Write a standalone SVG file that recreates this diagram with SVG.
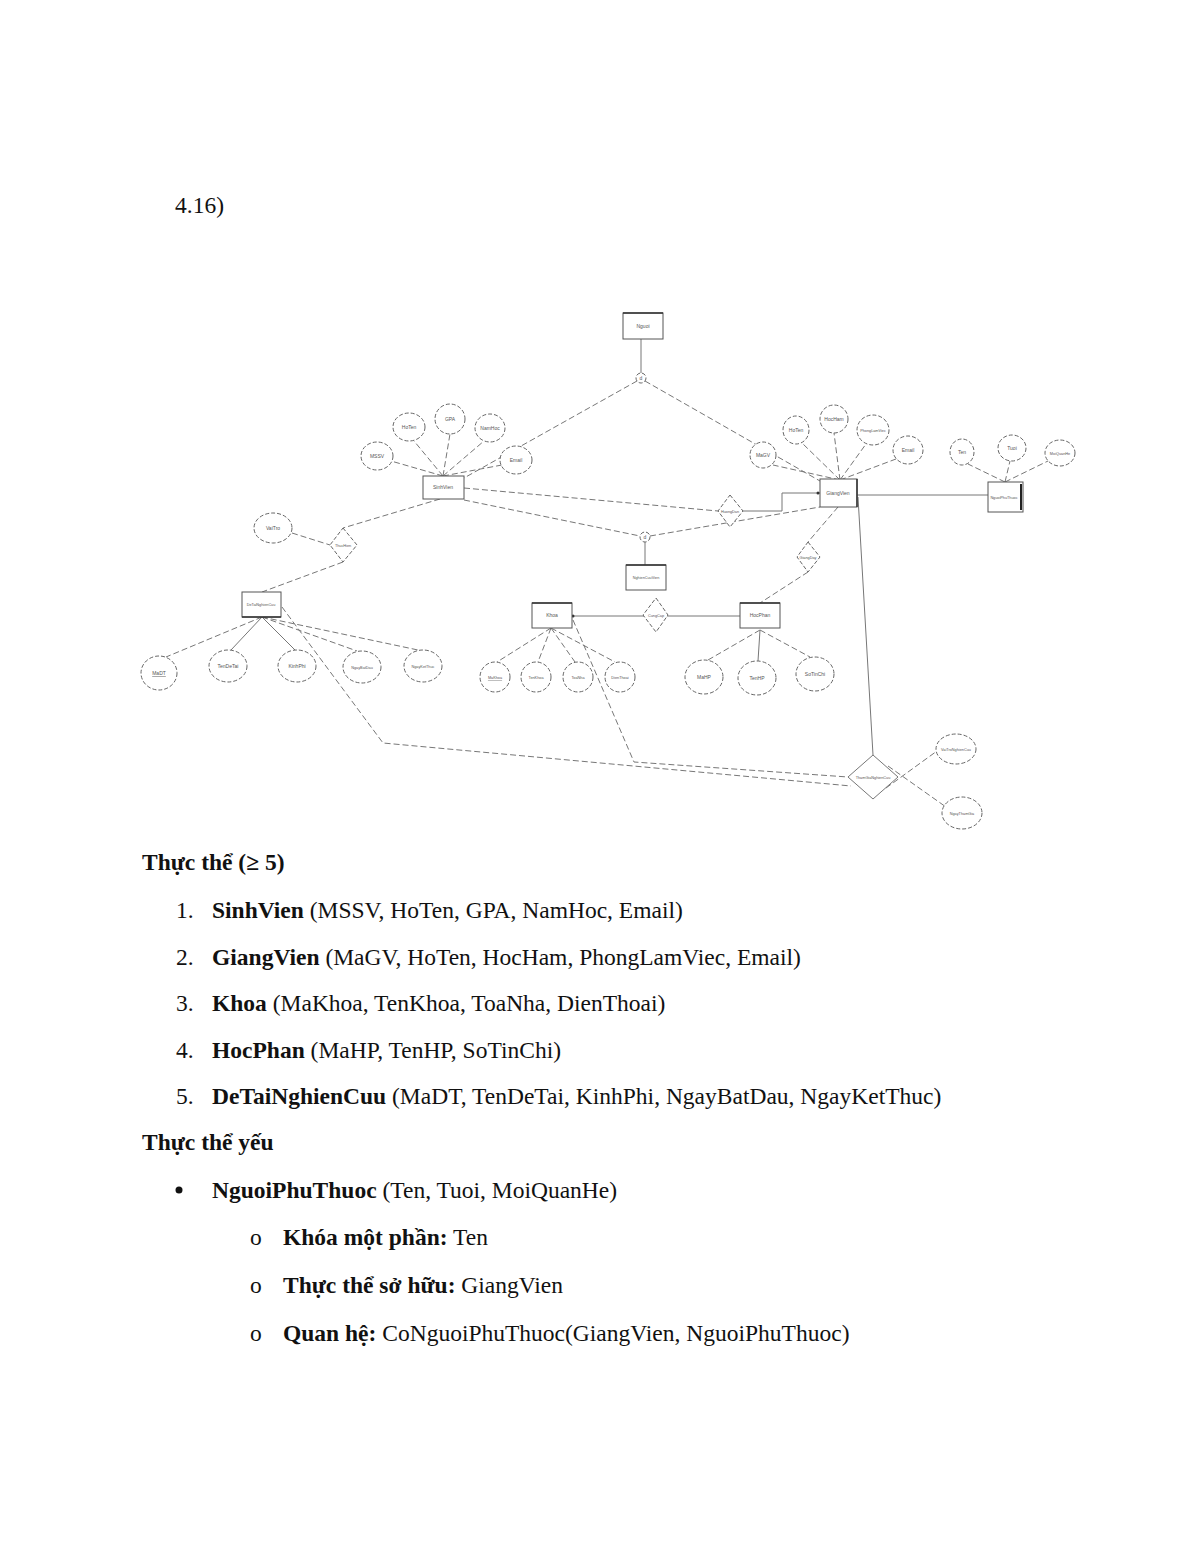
<svg xmlns="http://www.w3.org/2000/svg" width="1200" height="1553" viewBox="0 0 1200 1553">
<style>
.bg{fill:#ffffff}
.ent{fill:#ffffff;stroke:#555;stroke-width:1}
.attr{fill:#ffffff;stroke:#666;stroke-width:1;stroke-dasharray:4 2}
.rel{fill:#ffffff;stroke:#666;stroke-width:1;stroke-dasharray:4 2}
.dl{fill:none;stroke:#777;stroke-width:1;stroke-dasharray:6 3}
.sl{fill:none;stroke:#777;stroke-width:1}
.lb{font-family:"Liberation Sans",Arial,sans-serif;font-size:5px;fill:#555;text-anchor:middle}
.s4{font-size:3.8px}
.t{font-family:"Liberation Serif","Times New Roman",serif;font-size:23.5px;fill:#111}
.b{font-weight:bold}
</style>
<rect class="bg" x="0" y="0" width="1200" height="1553"/>

<g id="connectors">
  <line class="sl" x1="641" y1="339" x2="641" y2="373"/>
  <line class="dl" x1="637" y1="381" x2="464" y2="478"/>
  <line class="dl" x1="645" y1="381" x2="820" y2="481"/>
  <line class="dl" x1="443" y1="476" x2="391" y2="461"/>
  <line class="dl" x1="443" y1="476" x2="414" y2="441"/>
  <line class="dl" x1="443" y1="476" x2="450" y2="434"/>
  <line class="dl" x1="443" y1="476" x2="484" y2="441"/>
  <line class="dl" x1="443" y1="476" x2="502" y2="465"/>
  <line class="dl" x1="840" y1="480" x2="773" y2="465"/>
  <line class="dl" x1="840" y1="480" x2="802" y2="443"/>
  <line class="dl" x1="840" y1="480" x2="834" y2="433"/>
  <line class="dl" x1="840" y1="480" x2="866" y2="444"/>
  <line class="dl" x1="840" y1="480" x2="896" y2="459"/>
  <line class="sl" x1="857" y1="495" x2="988" y2="495"/>
  <line class="dl" x1="1005" y1="482" x2="968" y2="464"/>
  <line class="dl" x1="1005" y1="482" x2="1010" y2="461"/>
  <line class="dl" x1="1005" y1="482" x2="1048" y2="461"/>
  <line class="dl" x1="464" y1="488" x2="718" y2="511"/>
  <polyline class="sl" points="743,511 782,511 782,493 820,493"/>
  <circle cx="818" cy="493" r="1.5" fill="#333"/>
  <line class="dl" x1="464" y1="500" x2="640" y2="536"/>
  <line class="dl" x1="650" y1="536" x2="820" y2="507"/>
  <line class="sl" x1="645" y1="542" x2="645" y2="565"/>
  <line class="dl" x1="838" y1="507" x2="808" y2="542"/>
  <line class="dl" x1="808" y1="572" x2="760" y2="603"/>
  <line class="dl" x1="440" y1="499" x2="343" y2="528"/>
  <line class="dl" x1="292" y1="533" x2="330" y2="545"/>
  <line class="dl" x1="343" y1="562" x2="262" y2="592"/>
  <line class="dl" x1="262" y1="617" x2="166" y2="657"/>
  <line class="sl" x1="262" y1="617" x2="231" y2="650"/>
  <line class="sl" x1="262" y1="617" x2="295" y2="650"/>
  <line class="dl" x1="262" y1="617" x2="357" y2="651"/>
  <line class="dl" x1="262" y1="617" x2="418" y2="650"/>
  <line class="dl" x1="551" y1="628" x2="497" y2="662"/>
  <line class="dl" x1="551" y1="628" x2="538" y2="662"/>
  <line class="dl" x1="551" y1="628" x2="575" y2="662"/>
  <line class="dl" x1="551" y1="628" x2="615" y2="662"/>
  <line class="sl" x1="572" y1="616" x2="740" y2="616"/>
  <circle cx="573" cy="616" r="1.5" fill="#333"/>
  <line class="dl" x1="760" y1="630" x2="708" y2="660"/>
  <line class="sl" x1="760" y1="630" x2="758" y2="661"/>
  <line class="dl" x1="760" y1="630" x2="810" y2="657"/>
  <line class="sl" x1="858" y1="497" x2="873" y2="755"/>
  <polyline class="dl" points="282,607 383,743 851,786"/>
  <polyline class="dl" points="573,620 634,762 848,777"/>
  <line class="dl" x1="886" y1="788" x2="937" y2="751"/>
  <line class="dl" x1="888" y1="766" x2="946" y2="807"/>
</g>

<g id="Nguoi"><rect class="ent" x="623" y="313" width="40" height="26"/><line x1="623" y1="313" x2="663" y2="313" stroke="#333" stroke-width="1.5"/><text class="lb" x="643" y="328">Nguoi</text></g>
<g id="isa1"><circle class="attr" cx="641" cy="378" r="5"/><text class="lb" x="641" y="380">d</text></g>

<g id="SinhVien"><rect class="ent" x="423" y="476" width="41" height="23"/><text class="lb" x="443" y="489">SinhVien</text></g>
<g id="sv_mssv"><ellipse class="attr" cx="377" cy="456" rx="16" ry="14"/><text class="lb" x="377" y="458">MSSV</text></g>
<g id="sv_hoten"><ellipse class="attr" cx="409" cy="427" rx="16" ry="14"/><text class="lb" x="409" y="429">HoTen</text></g>
<g id="sv_gpa"><ellipse class="attr" cx="450" cy="419" rx="15" ry="15"/><text class="lb" x="450" y="421">GPA</text></g>
<g id="sv_namhoc"><ellipse class="attr" cx="490" cy="428" rx="15" ry="14"/><text class="lb" x="490" y="430">NamHoc</text></g>
<g id="sv_email"><ellipse class="attr" cx="516" cy="460" rx="16" ry="14"/><text class="lb" x="516" y="462">Email</text></g>

<g id="GiangVien"><rect class="ent" x="820" y="479" width="37" height="28"/><line x1="857" y1="479" x2="857" y2="507" stroke="#333" stroke-width="1.5"/><text class="lb" x="838" y="495">GiangVien</text></g>
<g id="gv_magv"><ellipse class="attr" cx="763" cy="455" rx="13" ry="13"/><text class="lb" x="763" y="457">MaGV</text></g>
<g id="gv_hoten"><ellipse class="attr" cx="796" cy="430" rx="13" ry="14"/><text class="lb" x="796" y="432">HoTen</text></g>
<g id="gv_hocham"><ellipse class="attr" cx="834" cy="419" rx="14" ry="14"/><text class="lb" x="834" y="421">HocHam</text></g>
<g id="gv_phong"><ellipse class="attr" cx="873" cy="430" rx="16" ry="15"/><text class="lb s4" x="873" y="432">PhongLamViec</text></g>
<g id="gv_email"><ellipse class="attr" cx="908" cy="450" rx="15" ry="14"/><text class="lb" x="908" y="452">Email</text></g>

<g id="NguoiPhuThuoc"><rect class="ent" x="988" y="482" width="35" height="30"/><line x1="1021" y1="484" x2="1021" y2="510" stroke="#222" stroke-width="2"/><text class="lb s4" x="1004" y="499">NguoiPhuThuoc</text></g>
<g id="npt_ten"><ellipse class="attr" cx="962" cy="452" rx="12" ry="13"/><text class="lb" x="962" y="454">Ten</text></g>
<g id="npt_tuoi"><ellipse class="attr" cx="1012" cy="448" rx="14" ry="13"/><text class="lb" x="1012" y="450">Tuoi</text></g>
<g id="npt_mqh"><ellipse class="attr" cx="1060" cy="453" rx="15" ry="13"/><text class="lb s4" x="1060" y="455">MoiQuanHe</text></g>

<g id="HuongDan"><polygon class="rel" points="730,495 743,511 730,527 718,511"/><text class="lb s4" x="730" y="513">HuongDan</text></g>
<g id="isa2"><circle class="attr" cx="645" cy="537" r="5"/><text class="lb" x="645" y="539">d</text></g>
<g id="NghienCuuVien"><rect class="ent" x="626" y="565" width="40" height="25"/><line x1="626" y1="565" x2="666" y2="565" stroke="#333" stroke-width="1.5"/><text class="lb s4" x="646" y="579">NghienCuuVien</text></g>
<g id="GiangDay"><polygon class="rel" points="808,542 820,557 808,572 797,557"/><text class="lb s4" x="808" y="559">GiangDay</text></g>

<g id="ThucHien"><polygon class="rel" points="343,528 357,545 343,562 330,545"/><text class="lb s4" x="343" y="547">ThucHien</text></g>
<g id="th_vaitro"><ellipse class="attr" cx="273" cy="528" rx="19" ry="15"/><text class="lb" x="273" y="530">VaiTro</text></g>

<g id="DeTaiNghienCuu"><rect class="ent" x="242" y="592" width="39" height="25"/><line x1="242" y1="617" x2="281" y2="617" stroke="#333" stroke-width="1.5"/><text class="lb s4" x="261" y="606">DeTaiNghienCuu</text></g>
<g id="dt_madt"><ellipse class="attr" cx="159" cy="673" rx="18" ry="17"/><text class="lb" x="159" y="675" text-decoration="underline">MaDT</text></g>
<g id="dt_ten"><ellipse class="attr" cx="228" cy="666" rx="19" ry="16"/><text class="lb" x="228" y="668">TenDeTai</text></g>
<g id="dt_kinhphi"><ellipse class="attr" cx="297" cy="666" rx="19" ry="16"/><text class="lb" x="297" y="668">KinhPhi</text></g>
<g id="dt_nbd"><ellipse class="attr" cx="362" cy="667" rx="19" ry="16"/><text class="lb s4" x="362" y="669">NgayBatDau</text></g>
<g id="dt_nkt"><ellipse class="attr" cx="423" cy="666" rx="19" ry="16"/><text class="lb s4" x="423" y="668">NgayKetThuc</text></g>

<g id="Khoa"><rect class="ent" x="532" y="603" width="40" height="25"/><line x1="532" y1="603" x2="572" y2="603" stroke="#333" stroke-width="1.5"/><text class="lb" x="552" y="617">Khoa</text></g>
<g id="k_ma"><ellipse class="attr" cx="495" cy="677" rx="15" ry="15"/><text class="lb s4" x="495" y="679" text-decoration="underline">MaKhoa</text></g>
<g id="k_ten"><ellipse class="attr" cx="536" cy="677" rx="15" ry="15"/><text class="lb s4" x="536" y="679">TenKhoa</text></g>
<g id="k_toa"><ellipse class="attr" cx="578" cy="677" rx="15" ry="15"/><text class="lb s4" x="578" y="679">ToaNha</text></g>
<g id="k_dt"><ellipse class="attr" cx="620" cy="677" rx="15" ry="15"/><text class="lb s4" x="620" y="679">DienThoai</text></g>

<g id="CungCap"><polygon class="rel" points="656,598 668,615 656,632 643,615"/><text class="lb s4" x="656" y="617">CungCap</text></g>

<g id="HocPhan"><rect class="ent" x="740" y="603" width="40" height="25"/><line x1="740" y1="603" x2="780" y2="603" stroke="#333" stroke-width="1.5"/><text class="lb" x="760" y="617">HocPhan</text></g>
<g id="hp_ma"><ellipse class="attr" cx="704" cy="677" rx="19" ry="17"/><text class="lb" x="704" y="679">MaHP</text></g>
<g id="hp_ten"><ellipse class="attr" cx="757" cy="678" rx="19" ry="17"/><text class="lb" x="757" y="680">TenHP</text></g>
<g id="hp_stc"><ellipse class="attr" cx="815" cy="674" rx="19" ry="17"/><text class="lb" x="815" y="676">SoTinChi</text></g>

<g id="ThamGiaNghienCuu"><polygon class="sl" points="873,755 898,777 873,799 848,777" fill="#fff"/><text class="lb s4" x="873" y="779">ThamGiaNghienCuu</text></g>
<g id="tg_vaitro"><ellipse class="attr" cx="956" cy="749" rx="20" ry="15"/><text class="lb s4" x="956" y="751">VaiTroNghienCuu</text></g>
<g id="tg_ngay"><ellipse class="attr" cx="962" cy="813" rx="20" ry="16"/><text class="lb s4" x="962" y="815">NgayThamGia</text></g>

<g id="text">
<text class="t" x="175" y="213">4.16)</text>
<text class="t b" x="142" y="870">Thực thể (≥ 5)</text>
<text class="t" x="176" y="918">1.</text><text class="t" x="212" y="918"><tspan class="b">SinhVien</tspan> (MSSV, HoTen, GPA, NamHoc, Email)</text>
<text class="t" x="176" y="965">2.</text><text class="t" x="212" y="965"><tspan class="b">GiangVien</tspan> (MaGV, HoTen, HocHam, PhongLamViec, Email)</text>
<text class="t" x="176" y="1011">3.</text><text class="t" x="212" y="1011"><tspan class="b">Khoa</tspan> (MaKhoa, TenKhoa, ToaNha, DienThoai)</text>
<text class="t" x="176" y="1058">4.</text><text class="t" x="212" y="1058"><tspan class="b">HocPhan</tspan> (MaHP, TenHP, SoTinChi)</text>
<text class="t" x="176" y="1104">5.</text><text class="t" x="212" y="1104"><tspan class="b">DeTaiNghienCuu</tspan> (MaDT, TenDeTai, KinhPhi, NgayBatDau, NgayKetThuc)</text>
<text class="t b" x="142" y="1150">Thực thể yếu</text>
<circle cx="179" cy="1190" r="3.5" fill="#111"/>
<text class="t" x="212" y="1198"><tspan class="b">NguoiPhuThuoc</tspan> (Ten, Tuoi, MoiQuanHe)</text>
<text class="t" x="250" y="1245">o</text><text class="t" x="283" y="1245"><tspan class="b">Khóa một phần:</tspan> Ten</text>
<text class="t" x="250" y="1293">o</text><text class="t" x="283" y="1293"><tspan class="b">Thực thể sở hữu:</tspan> GiangVien</text>
<text class="t" x="250" y="1341">o</text><text class="t" x="283" y="1341"><tspan class="b">Quan hệ:</tspan> CoNguoiPhuThuoc(GiangVien, NguoiPhuThuoc)</text>
</g>
</svg>
